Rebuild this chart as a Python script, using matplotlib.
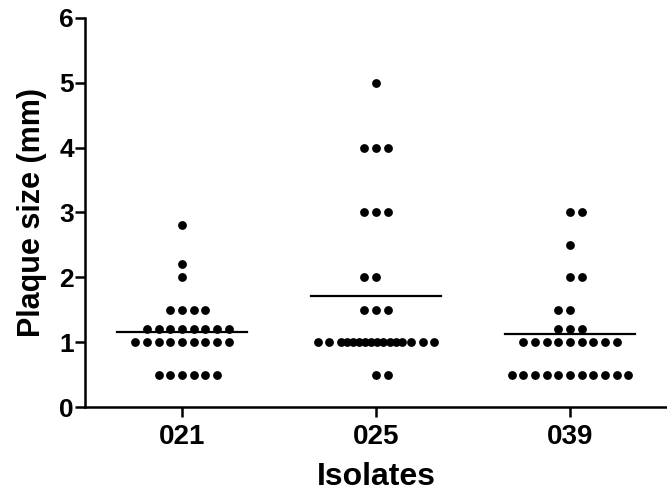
import matplotlib
matplotlib.use('Agg')
import matplotlib.pyplot as plt
import numpy as np

plt.rcParams['font.family'] = ['Liberation Sans', 'DejaVu Sans']
plt.rcParams['font.weight'] = 'bold'

#------------------------------------------------
# data: plaque size (mm) per isolate, value -> count
#------------------------------------------------
isolates = ['021', '025', '039']

vals_021 = [2.8, 2.2, 2.0, 1.5, 1.2, 1.0, 0.5]
cnt_021 = [1, 1, 1, 4, 8, 9, 6]

vals_025 = [5.0, 4.0, 3.0, 2.0, 1.5, 1.0, 0.5]
cnt_025 = [1, 3, 3, 2, 3, 16, 2]

vals_039 = [3.0, 2.5, 2.0, 1.5, 1.2, 1.0, 0.5]
cnt_039 = [2, 1, 2, 2, 3, 9, 11]

groups = [(vals_021, cnt_021), (vals_025, cnt_025), (vals_039, cnt_039)]

# rows with an even count that lean left instead of right
left_rows = {(1, 2.0), (2, 1.5)}

step = 0.06   # horizontal spacing between dots (data units)


def row_offsets(n, left=False):
    if n > 12:
        # crowded row: outer dots spaced, middle squeezed
        mid = np.linspace(-3.0, 2.2, n - 5)
        return np.concatenate([[-5, -4], mid, [3, 4, 5]]) * step
    if n % 2 == 1:
        k = np.arange(n) - (n - 1) / 2
    else:
        k = np.arange(n) - (n / 2 - 1)
        if left:
            k = k - 1
    return k * step


fig = plt.figure(figsize=(6.67, 4.97), dpi=100)
ax = fig.add_axes([0.1275, 0.181, 0.8725, 0.783])

for gi, (vals, cnts) in enumerate(groups):
    xs, ys = [], []
    for v, c in zip(vals, cnts):
        off = row_offsets(c, (gi, v) in left_rows)
        xs.extend(gi + off)
        ys.extend([v] * c)
    ax.scatter(xs, ys, s=40, color='black', linewidths=0, zorder=3)
    mean = np.sum(np.array(vals) * np.array(cnts)) / np.sum(cnts)
    ax.plot([gi - 0.335, gi + 0.335], [mean, mean], color='black', lw=1.6, zorder=2)

ax.set_xlim(-0.5, 2.5)
ax.set_ylim(0, 6)
ax.set_xticks(range(3))
ax.set_xticklabels(isolates)
ax.set_yticks(range(7))

for s in ['top', 'right']:
    ax.spines[s].set_visible(False)
for s in ['left', 'bottom']:
    ax.spines[s].set_linewidth(1.8)
ax.spines['left'].set_bounds(0, 6)

ax.tick_params(axis='y', direction='out', length=7, width=1.8, labelsize=19, pad=1)
ax.tick_params(axis='x', direction='out', length=7, width=1.8, labelsize=20, pad=5)

ax.set_ylabel('Plaque size (mm)', fontsize=22, fontweight='bold', labelpad=9)
ax.set_xlabel('Isolates', fontsize=23, fontweight='bold', labelpad=9)

fig.savefig('out.png', dpi=100)
